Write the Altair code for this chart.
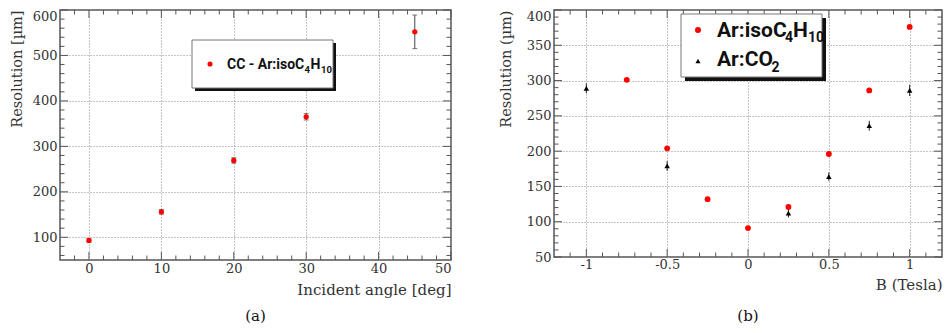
import altair as alt
import pandas as pd
import numpy as np

# ---------------- data: panel (a) ----------------
angle = [0, 10, 20, 30, 45]
res_a = [93, 156, 269, 365, 552]
err_a = [4, 5, 6, 7, 37]
xlab_a = [0, 10, 20, 30, 40, 50]
ylab_a = [100, 200, 300, 400, 500, 600]

# ---------------- data: panel (b) ----------------
b_iso = [-0.75, -0.5, -0.25, 0, 0.25, 0.5, 0.75, 1]
res_iso = [301, 204, 132, 91, 121, 196, 286, 376]
b_co2 = [-1, -0.5, 0.25, 0.5, 0.75, 1]
res_co2 = [289, 179, 112, 164, 236, 286]
err_co2 = [7, 7, 6, 6, 7, 8]
xlab_b = [-1, -0.5, 0, 0.5, 1]
ylab_b = [50, 100, 150, 200, 250, 300, 350, 400]

SERIF = "DejaVu Serif"
SANS = "Roboto"
RED = "#ff0000"
TICKC = "#555555"
TXT = "#333333"

WA, HA = 391, 250
WB, HB = 388, 247
MAJ, MIN = 8, 4.5


def axis_x(title, values, lp, tp, expr=None):
    kw = dict(values=values, title=title, grid=True, gridDash=[1, 2], gridColor="#8a8a8a",
              gridWidth=1, ticks=False, domain=False, labelFont=SERIF, labelFontSize=13,
              labelColor=TXT, labelPadding=lp, labelOverlap=False, titleFont=SERIF,
              titleFontSize=15, titleFontWeight="normal", titleColor=TXT,
              titleAnchor="end", titlePadding=tp)
    if expr:
        kw["labelExpr"] = expr
    return alt.Axis(**kw)


def axis_y(title, values, tp, topval):
    return alt.Axis(values=values, title=title, grid=True, gridDash=[1, 2], gridColor="#8a8a8a",
                    gridWidth=1, ticks=False, domain=False, labelFont=SERIF, labelFontSize=13,
                    labelColor=TXT, labelPadding=3, labelOverlap=False,
                    labelBaseline={"condition": {"test": f"datum.value == {topval}",
                                                 "value": "top"}, "value": "middle"},
                    titleFont=SERIF, titleFontSize=14.5, titleFontWeight="normal",
                    titleColor=TXT, titleAnchor="end", titlePadding=tp)


def frame_ticks(X, Y, xs_major, xs_minor, ys_major, ys_minor, W, H):
    layers = []
    for vals, L in ((xs_major, MAJ), (xs_minor, MIN)):
        d = pd.DataFrame({"v": vals})
        layers.append(alt.Chart(d).mark_rule(color=TICKC, strokeWidth=1).encode(
            x=X("v"), y=alt.value(H), y2=alt.value(H - L)))
        layers.append(alt.Chart(d).mark_rule(color=TICKC, strokeWidth=1).encode(
            x=X("v"), y=alt.value(0), y2=alt.value(L)))
    for vals, L in ((ys_major, MAJ), (ys_minor, MIN)):
        d = pd.DataFrame({"v": vals})
        layers.append(alt.Chart(d).mark_rule(color=TICKC, strokeWidth=1).encode(
            y=Y("v"), x=alt.value(0), x2=alt.value(L)))
        layers.append(alt.Chart(d).mark_rule(color=TICKC, strokeWidth=1).encode(
            y=Y("v"), x=alt.value(W), x2=alt.value(W - L)))
    return layers


def label(text, x, y, size, color="#111"):
    return alt.Chart(one).mark_text(text=text, font=SANS, fontWeight="bold", fontSize=size,
                                    align="left", baseline="alphabetic", color=color).encode(
        x=alt.value(x), y=alt.value(y))


one = pd.DataFrame({"k": [0]})

# ---------------- panel (a) ----------------
xsa = alt.Scale(domain=[-4, 50], nice=False, zero=False)
ysa = alt.Scale(domain=[50, 600], nice=False, zero=False)
AXA = axis_x("Incident angle [deg]", xlab_a, 2.5, 7)
AYA = axis_y("Resolution [µm]", ylab_a, 8, 600)


def XA(f):
    return alt.X(f"{f}:Q", scale=xsa, axis=AXA)


def YA(f):
    return alt.Y(f"{f}:Q", scale=ysa, axis=AYA)


da = pd.DataFrame({"angle": angle, "res": res_a, "err": err_a})
da["lo"] = da["res"] - da["err"]
da["hi"] = da["res"] + da["err"]

base_a = alt.Chart(da)
err_rule_a = base_a.mark_rule(color="#444", strokeWidth=1).encode(
    x=XA("angle"), y=YA("lo"), y2="hi:Q")
cap_lo_a = base_a.mark_tick(color="#444", orient="horizontal", size=5, thickness=1).encode(
    x=XA("angle"), y=YA("lo"))
cap_hi_a = base_a.mark_tick(color="#444", orient="horizontal", size=5, thickness=1).encode(
    x=XA("angle"), y=YA("hi"))
pts_a = base_a.mark_point(filled=True, shape="circle", size=28, color=RED, opacity=1).encode(
    x=XA("angle"), y=YA("res"))

leg_a = [
    alt.Chart(one).mark_rect(color="#111").encode(
        x=alt.value(135), x2=alt.value(276), y=alt.value(33), y2=alt.value(81)),
    alt.Chart(one).mark_rect(fill="white", stroke="#777", strokeWidth=1).encode(
        x=alt.value(132), x2=alt.value(273), y=alt.value(30), y2=alt.value(78)),
    alt.Chart(one).mark_point(filled=True, shape="circle", size=26, color=RED, opacity=1).encode(
        x=alt.value(150), y=alt.value(54)),
    label("CC - Ar:isoC", 167, 59, 14),
    label("4", 244.5, 63, 9.5),
    label("H", 250.5, 59, 14),
    label("10", 261, 63, 9.5),
]

ticks_a = frame_ticks(XA, YA, xlab_a, [v for v in np.arange(-2, 50, 2) if v % 10 != 0],
                      ylab_a, [v for v in np.arange(60, 600, 20) if v % 100 != 0], WA, HA)

chart_a = alt.layer(err_rule_a, *ticks_a, cap_lo_a, cap_hi_a, pts_a, *leg_a).properties(
    width=WA, height=HA,
    title=alt.TitleParams("(a)", orient="bottom", font=SERIF, fontSize=15,
                          fontWeight="normal", color="#111", anchor="middle", offset=11))

# ---------------- panel (b) ----------------
xsb = alt.Scale(domain=[-1.2, 1.2], nice=False, zero=False)
ysb = alt.Scale(domain=[50, 400], nice=False, zero=False)
AXB = axis_x("B (Tesla)", xlab_b, 1, 6, "toString(datum.value)")
AYB = axis_y("Resolution (µm)", ylab_b, 13, 400)


def XB(f):
    return alt.X(f"{f}:Q", scale=xsb, axis=AXB)


def YB(f):
    return alt.Y(f"{f}:Q", scale=ysb, axis=AYB)


di = pd.DataFrame({"B": b_iso, "res": res_iso})
dc = pd.DataFrame({"B": b_co2, "res": res_co2, "err": err_co2})
dc["lo"] = dc["res"] - dc["err"]
dc["hi"] = dc["res"] + dc["err"]

err_rule_b = alt.Chart(dc).mark_rule(color="#222", strokeWidth=1).encode(
    x=XB("B"), y=YB("lo"), y2="hi:Q")
pts_iso = alt.Chart(di).mark_point(filled=True, shape="circle", size=34, color=RED, opacity=1).encode(
    x=XB("B"), y=YB("res"))
pts_co2 = alt.Chart(dc).mark_point(filled=True, shape="triangle-up", size=30, color="#000",
                                   opacity=1).encode(x=XB("B"), y=YB("res"))

leg_b = [
    alt.Chart(one).mark_rect(color="#111").encode(
        x=alt.value(131), x2=alt.value(272), y=alt.value(8), y2=alt.value(71)),
    alt.Chart(one).mark_rect(fill="white", stroke="#777", strokeWidth=1).encode(
        x=alt.value(127), x2=alt.value(268), y=alt.value(4), y2=alt.value(67)),
    alt.Chart(one).mark_point(filled=True, shape="circle", size=36, color=RED, opacity=1).encode(
        x=alt.value(144), y=alt.value(20)),
    alt.Chart(one).mark_point(filled=True, shape="triangle-up", size=26, color="#000",
                              opacity=1).encode(x=alt.value(144), y=alt.value(51)),
    label("Ar:isoC", 163, 26.5, 21),
    label("4", 231, 32, 14),
    label("H", 239, 26.5, 21),
    label("10", 254, 32, 14),
    label("Ar:CO", 163, 56, 21),
    label("2", 217.5, 61.5, 14),
]

ticks_b = frame_ticks(XB, YB, xlab_b, [round(v, 2) for v in np.arange(-1.1, 1.15, 0.1)
                                       if abs(round(v * 2) - v * 2) > 1e-6],
                      ylab_b, [v for v in np.arange(60, 400, 10) if v % 50 != 0], WB, HB)

chart_b = alt.layer(err_rule_b, *ticks_b, pts_iso, pts_co2, *leg_b).properties(
    width=WB, height=HB,
    title=alt.TitleParams("(b)", orient="bottom", font=SERIF, fontSize=15,
                          fontWeight="normal", color="#111", anchor="middle", offset=17))

chart = alt.hconcat(chart_a, chart_b, spacing=44).properties(
    padding={"left": 0, "top": 0, "right": 0, "bottom": 0}, background="white"
).configure_view(stroke="#555", strokeWidth=1.5)

chart.save("out.html", embed_options={"renderer": "svg", "actions": False})
